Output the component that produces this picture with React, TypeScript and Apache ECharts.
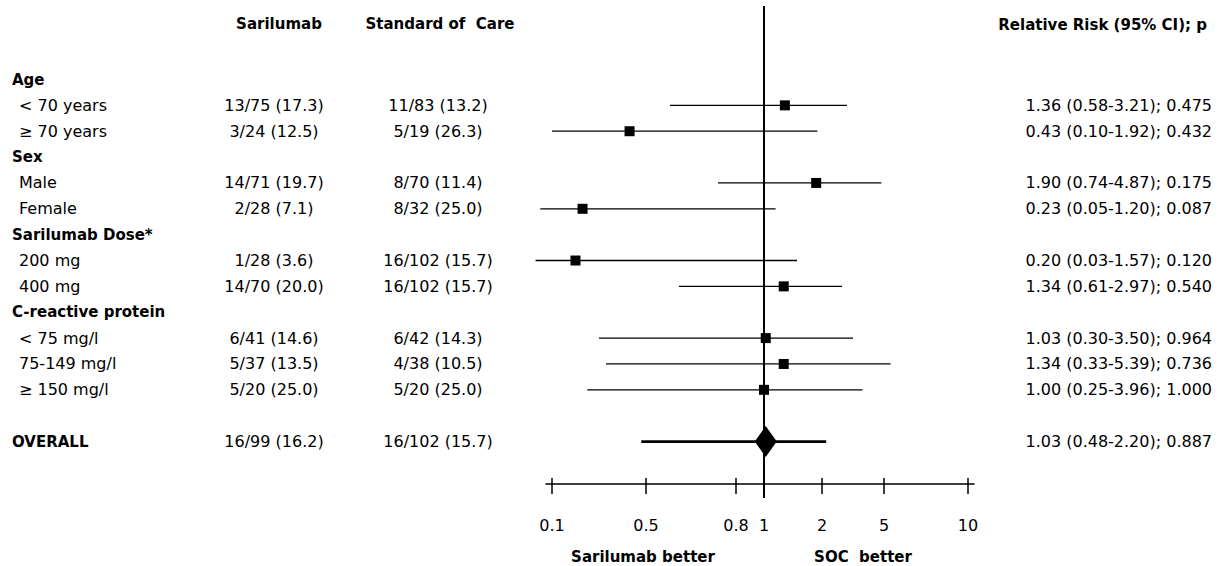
import React, { useEffect, useRef } from "react";
import * as echarts from "echarts";

// ---------- table rows ----------
const ROW_LABELS = [
  "Age",
  "< 70 years",
  "≥ 70 years",
  "Sex",
  "Male",
  "Female",
  "Sarilumab Dose*",
  "200 mg",
  "400 mg",
  "C-reactive protein",
  "< 75 mg/l",
  "75-149 mg/l",
  "≥ 150 mg/l",
  "",
  "OVERALL",
];
const HEADER_ROWS = [0, 3, 6, 9, 14];
const SARILUMAB = [
  "", "13/75 (17.3)", "3/24 (12.5)", "", "14/71 (19.7)", "2/28 (7.1)", "",
  "1/28 (3.6)", "14/70 (20.0)", "", "6/41 (14.6)", "5/37 (13.5)", "5/20 (25.0)", "", "16/99 (16.2)",
];
const SOC = [
  "", "11/83 (13.2)", "5/19 (26.3)", "", "8/70 (11.4)", "8/32 (25.0)", "",
  "16/102 (15.7)", "16/102 (15.7)", "", "6/42 (14.3)", "4/38 (10.5)", "5/20 (25.0)", "", "16/102 (15.7)",
];
const RR_TEXT = [
  "", "1.36 (0.58-3.21); 0.475", "0.43 (0.10-1.92); 0.432", "",
  "1.90 (0.74-4.87); 0.175", "0.23 (0.05-1.20); 0.087", "",
  "0.20 (0.03-1.57); 0.120", "1.34 (0.61-2.97); 0.540", "",
  "1.03 (0.30-3.50); 0.964", "1.34 (0.33-5.39); 0.736", "1.00 (0.25-3.96); 1.000", "",
  "1.03 (0.48-2.20); 0.887",
];

// ---------- forest values ----------
const SUB_ROWS = [1, 2, 4, 5, 7, 8, 10, 11, 12];
const RR = [1.36, 0.43, 1.9, 0.23, 0.2, 1.34, 1.03, 1.34, 1.0];
const LO = [0.58, 0.1, 0.74, 0.05, 0.03, 0.61, 0.3, 0.33, 0.25];
const HI = [3.21, 1.92, 4.87, 1.2, 1.57, 2.97, 3.5, 5.39, 3.96];
const OVERALL_ROW = 14;
const OVERALL_RR = 1.03;
const OVERALL_LO = 0.48;
const OVERALL_HI = 2.2;

// ---------- axis (non-uniform scale as drawn in the figure) ----------
const TICK_VALUES = [0.1, 0.5, 0.8, 1, 2, 5, 10];
const TICK_LABELS = ["0.1", "0.5", "0.8", "1", "2", "5", "10"];
const SCALE_POS = [0, 94, 184, 212, 270, 332, 416];

function toPos(v: number): number {
  const n = TICK_VALUES.length;
  let i = 0;
  if (v <= TICK_VALUES[0]) i = 0;
  else if (v >= TICK_VALUES[n - 1]) i = n - 2;
  else {
    while (i < n - 2 && v > TICK_VALUES[i + 1]) i++;
  }
  const v0 = TICK_VALUES[i], v1 = TICK_VALUES[i + 1];
  const p0 = SCALE_POS[i], p1 = SCALE_POS[i + 1];
  return p0 + ((v - v0) / (v1 - v0)) * (p1 - p0);
}

const FONT = "DejaVu Sans";

export default function App() {
  const ref = useRef<HTMLDivElement>(null);

  useEffect(() => {
    if (!ref.current) return;
    const chart = echarts.init(ref.current, undefined, { renderer: "svg" });

    const ciData = SUB_ROWS.map((r, i) => [toPos(LO[i]), toPos(HI[i]), r]);
    const pointData = SUB_ROWS.map((r, i) => [toPos(RR[i]), r]);

    const ciRender = (width: number) => (params: any, api: any) => {
      const p1 = api.coord([api.value(0), api.value(2)]);
      const p2 = api.coord([api.value(1), api.value(2)]);
      return {
        type: "line",
        shape: { x1: p1[0], y1: p1[1], x2: p2[0], y2: p2[1] },
        style: { stroke: "#000", lineWidth: width },
      };
    };

    const rowTop = 79.5;
    const rowStep = 25.86;
    const plotTop = 6;
    const plotBottom = 498;
    const axisY = 484;
    const yMin = -(rowTop - plotTop) / rowStep;
    const yMax = yMin + (plotBottom - plotTop) / rowStep;

    const plotLeft = 546;
    const plotWidth = 428;
    const xMin = -6;
    const xMax = 422;

    const textAxisBase = {
      type: "category",
      gridIndex: 1,
      inverse: true,
      position: "left",
      axisLine: { show: false },
      axisTick: { show: false },
      splitLine: { show: false },
    };

    const colRight = 1212;
    const tickLabelFormatter = (v: number) => {
      const idx = SCALE_POS.indexOf(v);
      return idx >= 0 ? TICK_LABELS[idx] : "";
    };

    const option: any = {
      animation: false,
      textStyle: { fontFamily: FONT },
      grid: [
        { left: plotLeft, width: plotWidth, top: plotTop, height: plotBottom - plotTop },
        {
          left: colRight,
          width: 1,
          top: rowTop - rowStep / 2,
          height: rowStep * ROW_LABELS.length,
        },
        { left: plotLeft, width: plotWidth, top: axisY - 20, height: 20 },
        { left: plotLeft, width: plotWidth, top: axisY - 20, height: 20 },
      ],
      xAxis: [
        { type: "value", gridIndex: 0, min: xMin, max: xMax, show: false },
        { type: "value", gridIndex: 1, min: 0, max: 1, show: false },
        {
          type: "value",
          gridIndex: 2,
          min: xMin,
          max: xMax,
          position: "bottom",
          axisLine: { show: true, lineStyle: { color: "#000", width: 1.5 } },
          axisTick: {
            show: true,
            customValues: SCALE_POS,
            length: 10,
            inside: false,
            lineStyle: { color: "#000", width: 1.5 },
          },
          axisLabel: {
            show: true,
            customValues: SCALE_POS,
            margin: 33,
            color: "#000",
            fontSize: 16,
            fontFamily: FONT,
            formatter: tickLabelFormatter,
          },
          splitLine: { show: false },
        },
        {
          type: "value",
          gridIndex: 3,
          min: xMin,
          max: xMax,
          position: "bottom",
          axisLine: { show: false },
          axisTick: {
            show: true,
            customValues: SCALE_POS,
            length: 6,
            inside: true,
            lineStyle: { color: "#000", width: 1.5 },
          },
          axisLabel: { show: false },
          splitLine: { show: false },
        },
      ],
      yAxis: [
        {
          type: "value",
          gridIndex: 0,
          inverse: true,
          min: yMin,
          max: yMax,
          show: false,
        },
        {
          ...textAxisBase,
          data: ROW_LABELS,
          offset: colRight - 12,
          axisLabel: {
            interval: 0,
            margin: 0,
            align: "left",
            color: "#000",
            formatter: (v: string, i: number) => {
              if (!v) return "";
              return HEADER_ROWS.includes(i) ? `{h|${v}}` : `{n|${v}}`;
            },
            rich: {
              h: { fontFamily: FONT, fontWeight: "bold", fontSize: 15, color: "#000" },
              n: { fontFamily: FONT, fontSize: 16, color: "#000", padding: [0, 0, 0, 7] },
            },
          },
        },
        {
          ...textAxisBase,
          data: SARILUMAB,
          offset: colRight - 274,
          axisLabel: {
            interval: 0,
            margin: 0,
            align: "center",
            color: "#000",
            fontSize: 16,
            fontFamily: FONT,
          },
        },
        {
          ...textAxisBase,
          data: SOC,
          offset: colRight - 438,
          axisLabel: {
            interval: 0,
            margin: 0,
            align: "center",
            color: "#000",
            fontSize: 16,
            fontFamily: FONT,
          },
        },
        {
          ...textAxisBase,
          data: RR_TEXT,
          offset: 0,
          axisLabel: {
            interval: 0,
            margin: 0,
            align: "right",
            color: "#000",
            fontSize: 16,
            fontFamily: FONT,
          },
        },
        { type: "value", gridIndex: 2, show: false },
        { type: "value", gridIndex: 3, show: false },
      ],
      series: [
        {
          type: "custom",
          name: "CI",
          xAxisIndex: 0,
          yAxisIndex: 0,
          renderItem: ciRender(1.3),
          data: ciData,
          clip: false,
          silent: true,
          markLine: {
            silent: true,
            symbol: ["none", "none"],
            label: { show: false },
            lineStyle: { color: "#000", width: 2, type: "solid" },
            data: [{ xAxis: toPos(1) }],
          },
        },
        {
          type: "custom",
          name: "Overall CI",
          xAxisIndex: 0,
          yAxisIndex: 0,
          renderItem: ciRender(2.7),
          data: [[toPos(OVERALL_LO), toPos(OVERALL_HI), OVERALL_ROW]],
          clip: false,
          silent: true,
        },
        {
          type: "scatter",
          name: "RR",
          xAxisIndex: 0,
          yAxisIndex: 0,
          symbol: "rect",
          symbolSize: 10,
          itemStyle: { color: "#000", opacity: 1 },
          data: pointData,
          silent: true,
        },
        {
          type: "scatter",
          name: "Overall RR",
          xAxisIndex: 0,
          yAxisIndex: 0,
          symbol: "diamond",
          symbolSize: [22, 31],
          itemStyle: { color: "#000", opacity: 1 },
          data: [[toPos(OVERALL_RR), OVERALL_ROW]],
          silent: true,
        },
      ],
      graphic: [
        {
          type: "text",
          style: {
            x: 279, y: 24, text: "Sarilumab", align: "center", verticalAlign: "middle",
            font: `bold 15px "${FONT}"`, fill: "#000",
          },
        },
        {
          type: "text",
          style: {
            x: 440, y: 24, text: "Standard of  Care", align: "center", verticalAlign: "middle",
            font: `bold 15px "${FONT}"`, fill: "#000",
          },
        },
        {
          type: "text",
          style: {
            x: 1207, y: 25, text: "Relative Risk (95% CI); p", align: "right", verticalAlign: "middle",
            font: `bold 15px "${FONT}"`, fill: "#000",
          },
        },
        {
          type: "text",
          style: {
            x: 643, y: 557, text: "Sarilumab better", align: "center", verticalAlign: "middle",
            font: `bold 15px "${FONT}"`, fill: "#000",
          },
        },
        {
          type: "text",
          style: {
            x: 863, y: 557, text: "SOC  better", align: "center", verticalAlign: "middle",
            font: `bold 15px "${FONT}"`, fill: "#000",
          },
        },
      ],
    };

    chart.setOption(option);
    return () => chart.dispose();
  }, []);

  return (
    <div
      ref={ref}
      style={{ position: "fixed", left: 0, top: 0, width: 1224, height: 566, background: "#fff" }}
    />
  );
}
